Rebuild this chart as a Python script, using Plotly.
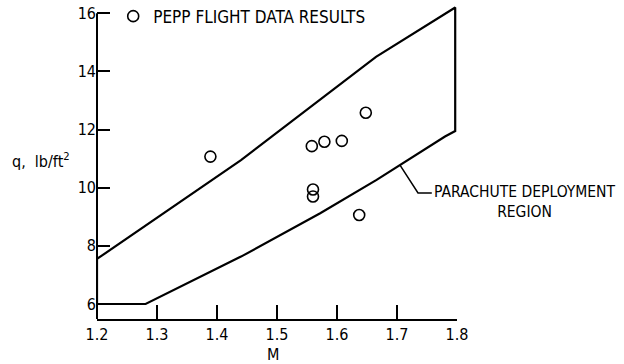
import plotly.graph_objects as go

# Data
flight_m = [1.389, 1.558, 1.579, 1.608, 1.648, 1.56, 1.56, 1.637]
flight_q = [11.07, 11.43, 11.58, 11.61, 12.58, 9.94, 9.70, 9.06]

region_m = [1.2, 1.44, 1.665, 1.797, 1.797, 1.78, 1.666, 1.572, 1.44, 1.281, 1.2, 1.2]
region_q = [7.55, 10.95, 14.5, 16.2, 11.95, 11.76, 10.27, 9.12, 7.63, 6.0, 6.0, 7.55]

leader_m = [1.705, 1.735, 1.758]
leader_q = [10.78, 9.82, 9.82]

x_ticks = [1.2, 1.3, 1.4, 1.5, 1.6, 1.7, 1.8]
x_labels = ["1.2", "1.3", "1.4", "1.5", "1.6", "1.7", "1.8"]
y_ticks = [6, 8, 10, 12, 14, 16]
y_labels = ["6", "8", "10", "12", "14", "16"]

FONT = "Liberation Sans Narrow, DejaVu Sans Condensed, Arial Narrow, sans-serif"

fig = go.Figure()
fig.add_trace(go.Scatter(x=region_m, y=region_q, mode="lines",
                         line=dict(color="black", width=2.2), showlegend=False,
                         hoverinfo="skip"))
fig.add_trace(go.Scatter(x=leader_m, y=leader_q, mode="lines",
                         line=dict(color="black", width=1.5), showlegend=False,
                         hoverinfo="skip"))
fig.add_trace(go.Scatter(x=flight_m, y=flight_q, mode="markers",
                         name="PEPP FLIGHT DATA RESULTS",
                         marker=dict(symbol="circle-open", size=11, color="black",
                                     line=dict(width=1.6, color="black")),
                         cliponaxis=False))

y_lo, y_hi = 5.484, 16.354
fig.update_layout(
    width=624, height=364,
    margin=dict(l=97, r=167, t=3, b=45, autoexpand=False),
    paper_bgcolor="white", plot_bgcolor="white",
    font=dict(family=FONT, size=16, color="black"),
    showlegend=True,
    legend=dict(x=0.045, y=0.957, xanchor="left", yanchor="middle",
                bgcolor="rgba(0,0,0,0)", borderwidth=0,
                font=dict(family=FONT, size=17, color="black"),
                itemwidth=30),
    xaxis=dict(range=[1.2, 1.8], tickvals=x_ticks, ticktext=x_labels,
               ticks="inside", ticklen=14, tickwidth=1.5, tickcolor="black",
               showline=True, linecolor="black", linewidth=1.5,
               showgrid=False, zeroline=False, automargin=False,
               tickfont=dict(family=FONT, size=16)),
    yaxis=dict(range=[y_lo, y_hi], tickvals=y_ticks, ticktext=y_labels,
               ticks="inside", ticklen=13, tickwidth=1.5, tickcolor="black",
               showline=False, showgrid=False, zeroline=False, automargin=False,
               ticklabelstandoff=0,
               tickfont=dict(family=FONT, size=16)),
    shapes=[dict(type="line", xref="paper", yref="y", x0=0, x1=0,
                 y0=y_lo, y1=16, line=dict(color="black", width=2))],
    annotations=[
        dict(text="q,  lb/ft<sup>2</sup>", xref="paper", yref="paper",
             x=-0.156, y=0.503, xanchor="center", yanchor="middle",
             showarrow=False, font=dict(family=FONT, size=16)),
        dict(text="M", xref="paper", yref="paper", x=0.489, y=-0.112,
             xanchor="center", yanchor="middle", showarrow=False,
             font=dict(family=FONT, size=16)),
        dict(text="PARACHUTE DEPLOYMENT<br>REGION", xref="x", yref="y",
             x=1.758, y=9.82, xanchor="left", yanchor="top", yshift=12,
             xshift=0, align="center", showarrow=False,
             font=dict(family=FONT, size=15.5)),
    ],
)

fig.write_html("out.html", config={"displayModeBar": False},
               post_script="document.body.style.margin='0px';")
